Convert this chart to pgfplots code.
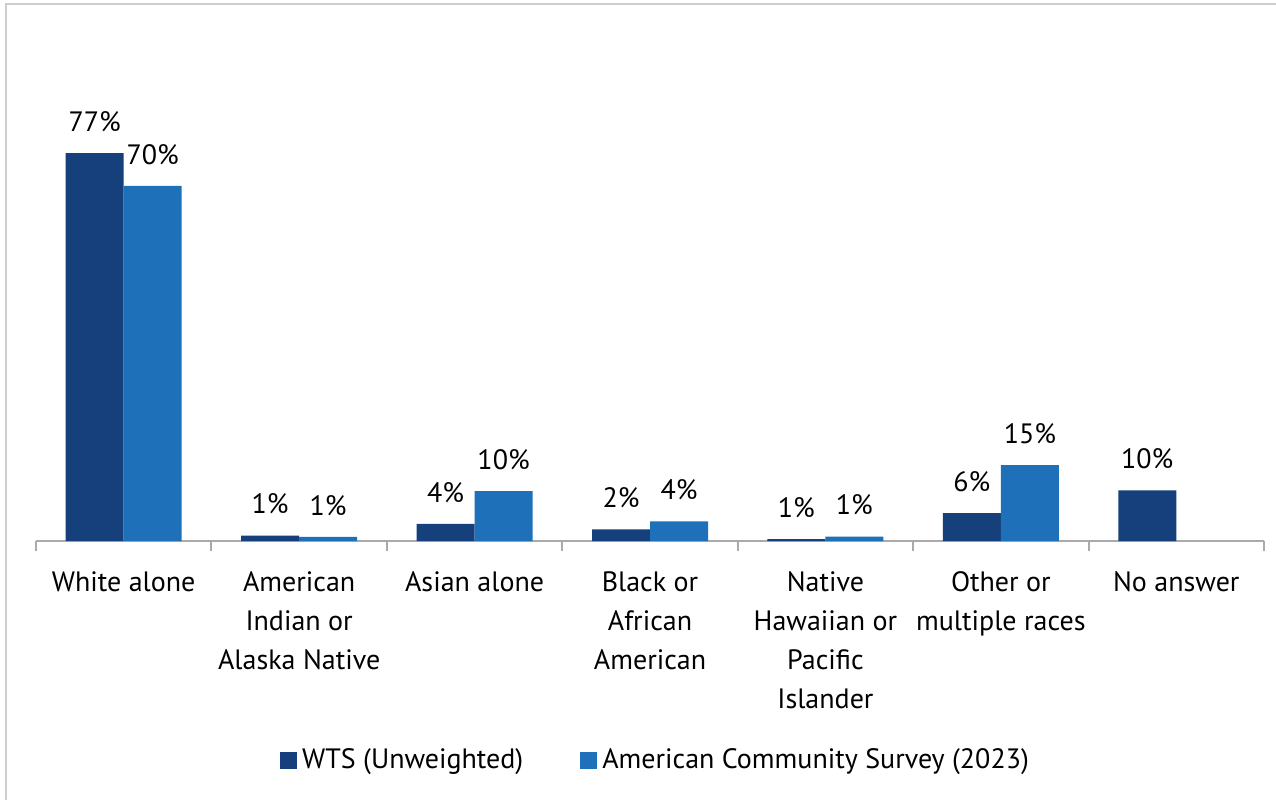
\documentclass[border=0pt]{standalone}
\usepackage{fontspec}
\setmainfont{PT Sans}
\usepackage{pgfplots}
\pgfplotsset{compat=1.18}
\definecolor{wts}{RGB}{22,64,124}
\definecolor{acs}{RGB}{30,112,185}
\definecolor{axisgray}{RGB}{170,170,170}
\definecolor{framegray}{RGB}{205,205,205}
\newcommand\lbl{\fontsize{14bp}{19.5bp}\selectfont}
\pgfplotsset{sqlegend/.style={legend image code/.code={\fill[##1, draw=none] (0bp,-4.25bp) rectangle (8.5bp,4.25bp);}}}
\begin{document}
\begin{tikzpicture}
\useasboundingbox (0,0) rectangle (638bp,400bp);
\fill[white] (0,0) rectangle (638bp,400bp);
\draw[framegray, line width=1bp] (3bp,0) -- (3bp,398bp) -- (638bp,398bp);
\begin{axis}[
  at={(18bp,129.5bp)}, anchor=south west,
  scale only axis, width=614bp, height=252.5bp,
  xmin=-0.5, xmax=6.5, ymin=0, ymax=100,
  ybar=0pt, bar width=29bp,
  axis x line*=bottom, axis y line=none,
  axis line style={axisgray, line width=1bp, -},
  xtick={0,1,2,3,4,5,6},
  xticklabels={{White alone},{American\\Indian or\\Alaska Native},{Asian alone},{Black or\\African\\American},{Native\\Hawaiian or\\Pacific\\Islander},{Other or\\multiple races},{No answer}},
  major tick length=0pt,
  extra x ticks={-0.5,0.5,1.5,2.5,3.5,4.5,5.5,6.5},
  extra x tick labels={},
  extra x tick style={major tick length=5bp, tick align=outside, tick style={axisgray, line width=1bp}},
  xticklabel style={font=\lbl, align=center, anchor=north, inner sep=0pt, yshift=-15.2bp, text=black},
  point meta=explicit symbolic,
  nodes near coords,
  every node near coord/.append style={font=\lbl, anchor=south, inner sep=0pt, yshift=10.5bp, text=black},
  legend columns=2,
  legend style={at={(0.5049,-0.4337)}, anchor=center, draw=none, fill=none, font=\lbl,
    nodes={inner sep=1.5bp},
    /tikz/every odd column/.append style={column sep=1bp},
    /tikz/every even column/.append style={column sep=27bp}},
  clip=false,
]
\addplot[fill=wts, draw=none, sqlegend] coordinates {(0,76.8)[77\%] (1,1.05)[1\%] (2,3.4)[4\%] (3,2.3)[2\%] (4,0.35)[1\%] (5,5.5)[6\%] (6,10.0)[10\%]};
\addplot[fill=acs, draw=none, sqlegend] coordinates {(0,70.3)[70\%] (1,0.8)[1\%] (2,9.9)[10\%] (3,3.9)[4\%] (4,0.85)[1\%] (5,15.0)[15\%]};
\legend{WTS (Unweighted), American Community Survey (2023)}
\end{axis}
\end{tikzpicture}
\end{document}
